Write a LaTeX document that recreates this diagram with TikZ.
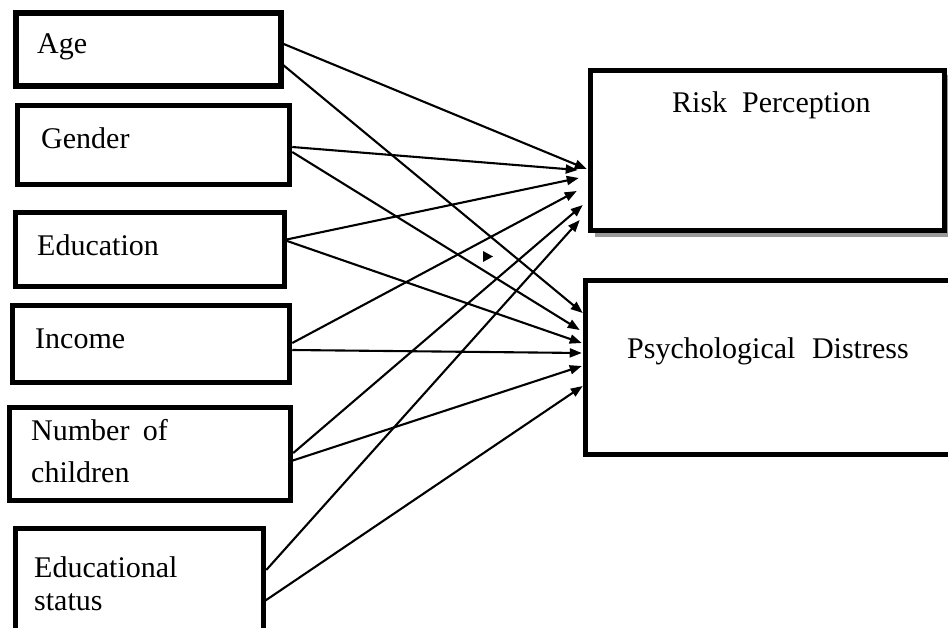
\documentclass[tikz,border=0pt]{standalone}
\usepackage{fontspec}
\setmainfont{Liberation Serif}
\usetikzlibrary{arrows.meta,shadows}
\begin{document}
\begin{tikzpicture}[x=1pt,y=-1pt,
  box/.style={draw=black, line width=5.5pt, fill=white, rectangle, inner sep=0pt},
  lbl/.style={anchor=base west, inner sep=0pt, font=\fontsize{30}{33}\selectfont, align=left},
  conn/.style={line width=2.1pt, -{Triangle[length=12pt,width=9pt]}}]
\useasboundingbox (0,0) rectangle (948,627);
\clip (0,0) rectangle (948,627);
\fill[white] (0,0) rectangle (948,627);
% boxes
\node[box, minimum width=265pt, minimum height=73pt] (age) at (148.5,49.5) {};
\node[box, minimum width=272pt, minimum height=79pt] (gender) at (153.5,145) {};
\node[box, minimum width=269pt, minimum height=74pt] (edu) at (150,249.5) {};
\node[box, minimum width=277pt, minimum height=77pt] (inc) at (151,344) {};
\node[box, minimum width=281pt, minimum height=93pt] (num) at (150,454) {};
\node[box, minimum width=248pt, minimum height=112pt] (eds) at (139.5,584.5) {};
\fill[gray!80] (594.5,75) rectangle (949,237);
\node[box, minimum width=354pt, minimum height=160pt] (risk) at (767.5,150.5) {};
\node[box, minimum width=375pt, minimum height=174pt] (psy) at (773,367.5) {};
% labels
\node[lbl] (tage) at (37,53) {Age};
\node[lbl] (tgen) at (41,148) {Gender};
\node[lbl] (tedu) at (37,255) {Education};
\node[lbl] (tinc) at (35,348) {Income};
\node[lbl, font=\fontsize{30}{42}\selectfont] (tnum) at (31,482) {Number\hspace{0.45em}of\\children};
\node[lbl, font=\fontsize{30}{33}\selectfont] (teds) at (34,610) {Educational\\status};
\node[lbl] (trisk) at (672,112) {Risk\hspace{0.5em}Perception};
\node[lbl] (tpsy) at (627,358) {Psychological\hspace{0.55em}Distress};
% connectors to Risk Perception
\draw[conn] ([yshift=5.5pt]age.east) -- ([xshift=-1pt,yshift=-18.5pt]risk.west);
\draw[conn] ([yshift=-2pt]gender.east) -- ([xshift=-10pt,yshift=-19.5pt]risk.west);
\draw[conn] ([xshift=-3pt,yshift=9.5pt]edu.east) -- ([xshift=-9pt,yshift=-27.5pt]risk.west);
\draw[conn] ([yshift=1pt]inc.east) -- ([xshift=-11pt,yshift=-40.5pt]risk.west);
\draw[conn] ([yshift=1pt]num.east) -- ([xshift=-5pt,yshift=-54.5pt]risk.west);
\draw[conn] ([yshift=14.5pt]eds.east) -- ([xshift=-8pt,yshift=-69.5pt]risk.west);
% connectors to Psychological Distress
\draw[conn] ([xshift=-3pt,yshift=-13.5pt]age.east) -- ([yshift=54.5pt]psy.west);
\draw[conn] ([yshift=-7pt]gender.east) -- ([xshift=-3pt,yshift=37.5pt]psy.west);
\draw[conn] ([xshift=-3pt,yshift=9.5pt]edu.east) -- ([xshift=-1pt,yshift=24.5pt]psy.west);
\draw[conn] ([yshift=-6pt]inc.east) -- ([xshift=-1pt,yshift=14.5pt]psy.west);
\draw[conn] ([xshift=-2pt,yshift=-7pt]num.east) -- ([xshift=-1pt,yshift=1.5pt]psy.west);
\draw[conn] ([xshift=-3pt,yshift=-17.5pt]eds.east) -- ([yshift=-18.5pt]psy.west);
% stray arrowhead
\fill (483,251) -- (493,256.5) -- (483,262) -- cycle;
\end{tikzpicture}
\end{document}
